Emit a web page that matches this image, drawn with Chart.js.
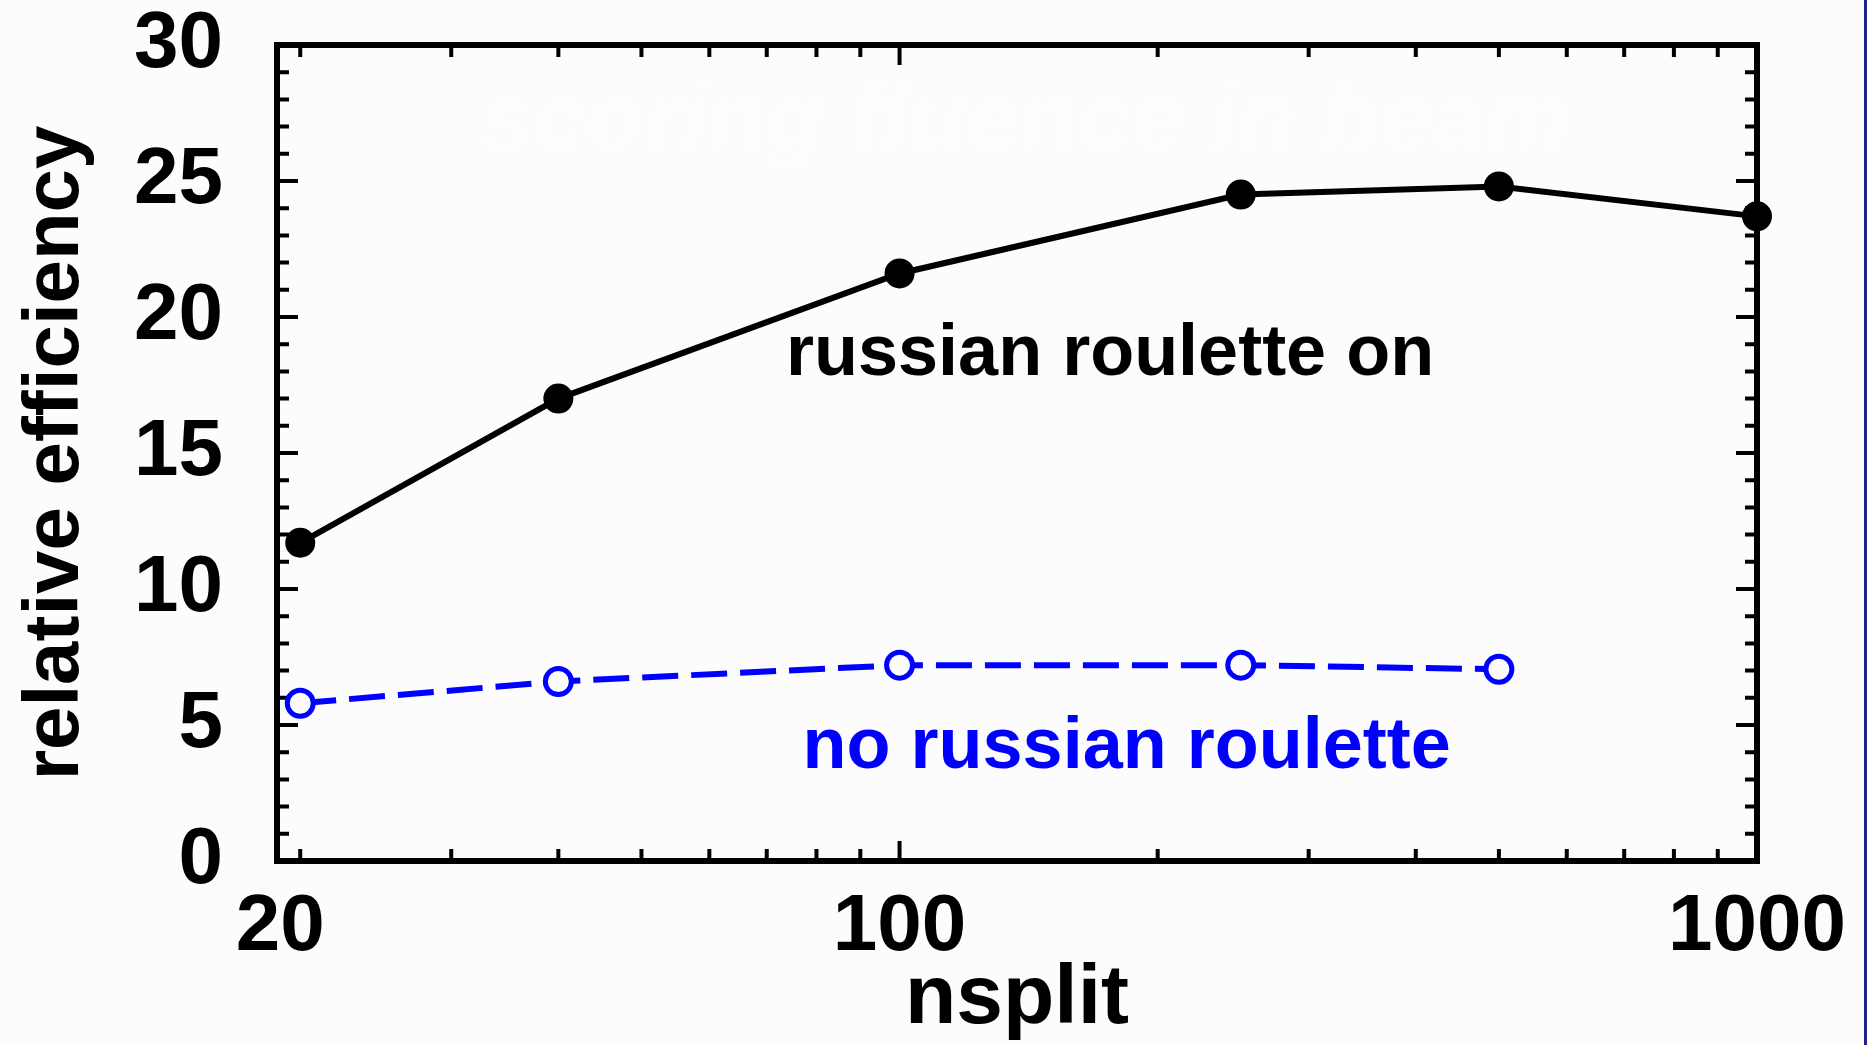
<!DOCTYPE html>
<html>
<head>
<meta charset="utf-8">
<script src="https://cdn.jsdelivr.net/npm/chart.js@4.4.1/dist/chart.umd.min.js"></script>
<style>
  html, body { margin: 0; padding: 0; background: #fcfcfc; }
  #wrap { width: 1867px; height: 1045px; position: relative; box-sizing: border-box; border-right: 3px solid #20208a; }
</style>
</head>
<body>
<div id="wrap"><canvas id="grafico" width="1864" height="1045"></canvas></div>
<script>
// datos
const nsplitOn = [20, 40, 100, 250, 500, 1000];
const effOn = [11.7, 17.0, 21.6, 24.5, 24.8, 23.7];
const nsplitOff = [20, 40, 100, 250, 500];
const effOff = [5.8, 6.6, 7.2, 7.2, 7.05];

// ticks
const xLabels = [20, 100, 1000];
const xMajor = [100, 1000];
const xMinor = [20, 30, 40, 50, 60, 70, 80, 90, 200, 300, 400, 500, 600, 700, 800, 900];
const yMajor = [0, 5, 10, 15, 20, 25, 30];
const yMinor = [1, 2, 3, 4, 6, 7, 8, 9, 11, 12, 13, 14, 16, 17, 18, 19, 21, 22, 23, 24, 26, 27, 28, 29];

// etiquetas dentro del grafico (en coordenadas de datos)
const labelOn = { text: 'russian roulette on', x: 176, y: 18.6 };
const labelOff = { text: 'no russian roulette', x: 184, y: 4.15 };
const watermark = 'scoring fluence in beam';

const fuente = '"Liberation Sans", Arial, sans-serif';

const marcoYTicks = {
  id: 'marcoYTicks',
  beforeDatasetsDraw(chart) {
    const { ctx, chartArea: a, scales } = chart;
    ctx.save();
    // marca de agua casi invisible
    ctx.font = 'italic bold 96px ' + fuente;
    ctx.fillStyle = 'rgba(255,255,255,0.35)';
    ctx.textBaseline = 'alphabetic';
    ctx.textAlign = 'left';
    ctx.fillText(watermark, 480, 150, 1090);

    ctx.strokeStyle = '#000';
    ctx.lineWidth = 4;
    const tick = (p, len, vertical) => {
      ctx.beginPath();
      if (vertical) {
        ctx.moveTo(p, a.bottom); ctx.lineTo(p, a.bottom - len);
        ctx.moveTo(p, a.top); ctx.lineTo(p, a.top + len);
      } else {
        ctx.moveTo(a.left, p); ctx.lineTo(a.left + len, p);
        ctx.moveTo(a.right, p); ctx.lineTo(a.right - len, p);
      }
      ctx.stroke();
    };
    xMajor.forEach(v => tick(scales.x.getPixelForValue(v), 20, true));
    xMinor.forEach(v => tick(scales.x.getPixelForValue(v), 12, true));
    yMajor.forEach(v => tick(scales.y.getPixelForValue(v), 21, false));
    yMinor.forEach(v => tick(scales.y.getPixelForValue(v), 12, false));

    ctx.lineWidth = 6;
    ctx.strokeRect(a.left, a.top, a.right - a.left, a.bottom - a.top);
    ctx.restore();
  },
  afterDraw(chart) {
    const { ctx, scales } = chart;
    ctx.save();
    ctx.font = 'bold 72px ' + fuente;
    ctx.textAlign = 'center';
    ctx.textBaseline = 'middle';
    ctx.fillStyle = '#000';
    ctx.fillText(labelOn.text, scales.x.getPixelForValue(labelOn.x), scales.y.getPixelForValue(labelOn.y));
    ctx.fillStyle = '#0000ff';
    ctx.fillText(labelOff.text, scales.x.getPixelForValue(labelOff.x), scales.y.getPixelForValue(labelOff.y));
    ctx.restore();
  }
};

new Chart(document.getElementById('grafico').getContext('2d'), {
  type: 'scatter',
  data: {
    datasets: [
      {
        label: 'russian roulette on',
        data: nsplitOn.map((x, i) => ({ x, y: effOn[i] })),
        showLine: true,
        borderColor: '#000',
        borderWidth: 6,
        pointRadius: 15,
        pointBackgroundColor: '#000',
        pointBorderColor: '#000',
        pointBorderWidth: 0,
        clip: false
      },
      {
        label: 'no russian roulette',
        data: nsplitOff.map((x, i) => ({ x, y: effOff[i] })),
        showLine: true,
        borderColor: '#0000ff',
        borderWidth: 6,
        borderDash: [36, 13],
        pointRadius: 13,
        pointBackgroundColor: '#fcfcfc',
        pointBorderColor: '#0000ff',
        pointBorderWidth: 5,
        clip: false
      }
    ]
  },
  options: {
    responsive: false,
    animation: false,
    layout: { padding: { left: 0, top: 45, right: 107, bottom: 0 } },
    plugins: {
      legend: { display: false },
      tooltip: { enabled: false }
    },
    scales: {
      x: {
        type: 'logarithmic',
        min: 18.79,
        max: 1000,
        grid: { display: false, drawTicks: false },
        border: { display: false },
        afterBuildTicks: scale => { scale.ticks = xLabels.map(v => ({ value: v })); },
        afterFit: scale => {
          scale.height = 184;
          scale.paddingLeft = 0;
          scale.paddingRight = 0;
        },
        ticks: {
          autoSkip: false,
          maxRotation: 0,
          padding: 19,
          color: '#000',
          font: { family: fuente, size: 80, weight: 'bold' },
          // el "20" del original esta corrido a la izquierda
          callback: value => value === 20 ? '20\u2002' : String(value)
        },
        title: {
          display: true,
          text: 'nsplit',
          color: '#000',
          font: { family: fuente, size: 84, weight: 'bold', lineHeight: 1 },
          padding: { top: 0, bottom: 3 }
        }
      },
      y: {
        min: 0,
        max: 30,
        grid: { display: false, drawTicks: false },
        border: { display: false },
        afterBuildTicks: scale => { scale.ticks = yMajor.map(v => ({ value: v })); },
        afterFit: scale => {
          scale.width = 277;
          scale.paddingTop = 0;
          scale.paddingBottom = 0;
        },
        ticks: {
          padding: 54,
          color: '#000',
          font: { family: fuente, size: 80, weight: 'bold' }
        },
        title: {
          display: true,
          text: 'relative efficiency',
          color: '#000',
          font: { family: fuente, size: 78, weight: 'bold', lineHeight: 1 },
          padding: { top: 17, bottom: 0 }
        }
      }
    }
  },
  plugins: [marcoYTicks]
});
</script>
</body>
</html>
